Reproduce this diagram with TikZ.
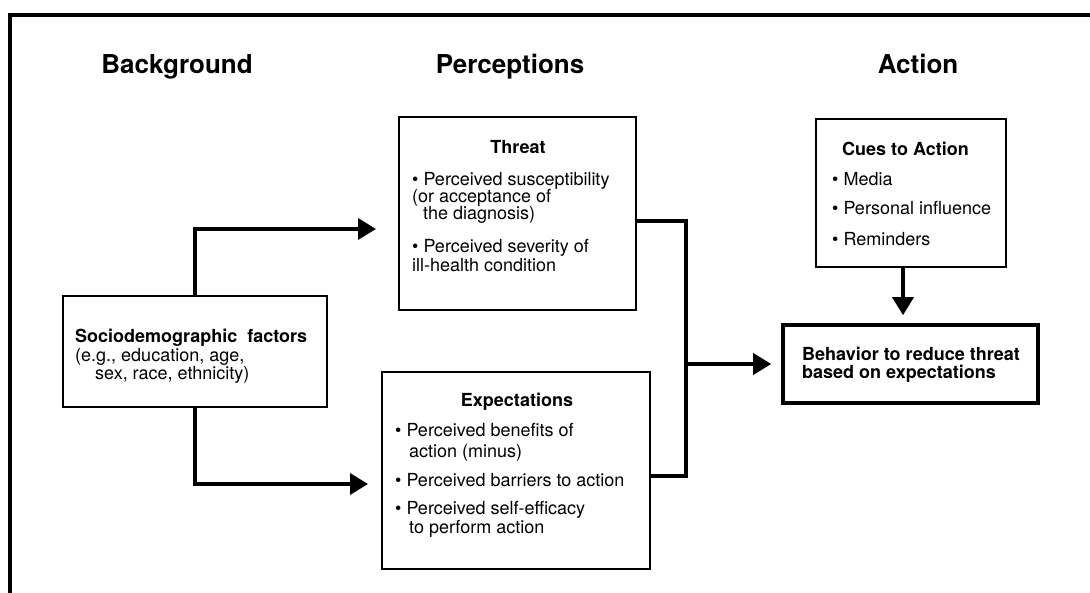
\documentclass[tikz,border=0pt]{standalone}
\usepackage{fontspec}
\setmainfont{TeX Gyre Heros}
\usetikzlibrary{arrows.meta}
\begin{document}
\begin{tikzpicture}[x=1pt,y=-1pt,
  box/.style={draw, line width=2.2pt, inner sep=0pt},
  thickbox/.style={box, line width=3.6pt},
  head/.style={font=\fontsize{26}{30}\selectfont\bfseries, inner sep=0pt, anchor=base},
  title/.style={font=\fontsize{18}{18}\selectfont\bfseries, inner sep=0pt, anchor=base},
  btitle/.style={title, anchor=base west},
  txt/.style={font=\fontsize{18}{18}\selectfont, inner sep=0pt, anchor=base west},
  link/.style={line width=3.6pt},
  arr/.style={link, -{Triangle[length=18pt,width=21pt]}}
]
\useasboundingbox (0,0) rectangle (1090,593);

% outer frame (top and left edges)
\draw[line width=4pt] (10,610) -- (10,15.5) -- (1110,15.5);

% column headings
\node[head] (hbg)  at (177,74) {Background};
\node[head] (hper) at (510,74) {Perceptions};
\node[head] (hact) at (918,74) {Action};

% boxes
\node[box, minimum width=237pt, minimum height=193pt] (threat) at (517.5,213.5) {};
\node[box, minimum width=268pt, minimum height=197pt] (expect) at (516,470.5) {};
\node[box, minimum width=264pt, minimum height=111pt] (socio)  at (195,351.5) {};
\node[box, minimum width=190pt, minimum height=148pt] (cues)   at (911,193) {};
\node[thickbox, minimum width=255pt, minimum height=78pt] (behav) at (910.5,364) {};

% threat text
\node[title] (thT) at (518,154) {Threat};
\node[txt] (th1) at (412,186) {\textbullet\ Perceived susceptibility};
\node[txt] (th2) at (412,203) {(or acceptance of};
\node[txt] (th3) at (423,220) {the diagnosis)};
\node[txt] (th4) at (412,253) {\textbullet\ Perceived severity of};
\node[txt] (th5) at (412,272) {ill-health condition};

% expectations text
\node[title] (exT) at (517,407) {Expectations};
\node[txt] (ex1) at (395,437) {\textbullet\ Perceived benefits of};
\node[txt] (ex2) at (409,457) {action (minus)};
\node[txt] (ex3) at (395,486) {\textbullet\ Perceived barriers to action};
\node[txt] (ex4) at (395,514) {\textbullet\ Perceived self-efficacy};
\node[txt] (ex5) at (409,533) {to perform action};

% sociodemographic text
\node[btitle] (soT) at (75,343) {Sociodemographic\ \ factors};
\node[txt] (so1) at (75,362) {(e.g., education, age,};
\node[txt] (so2) at (95,380) {sex, race, ethnicity)};

% cues text
\node[btitle] (cuT) at (842,156) {Cues to Action};
\node[txt] (cu1) at (832,186) {\textbullet\ Media};
\node[txt] (cu2) at (832,215) {\textbullet\ Personal influence};
\node[txt] (cu3) at (832,246) {\textbullet\ Reminders};

% behavior text
\node[btitle] (be1) at (802,361) {Behavior to reduce threat};
\node[btitle] (be2) at (802,379) {based on expectations};

% connectors
\coordinate (upTip)  at (376,229);
\coordinate (lowTip) at (368,484);
\coordinate (jTop) at (686,221);
\coordinate (jBot) at (686,476);
\coordinate (jMid) at (686,364);
\coordinate (cueX) at (903,0);

\draw[arr] (socio.north) |- (upTip);
\draw[arr] (socio.south) |- (lowTip);
\draw[link] (threat.east |- jTop) -- (jTop) -- (jBot) -- (expect.east |- jBot);
\draw[arr, shorten >=10pt] (jMid) -- (behav.west);
\draw[arr, shorten >=8pt] (cues.south -| cueX) -- (behav.north -| cueX);
\end{tikzpicture}
\end{document}
